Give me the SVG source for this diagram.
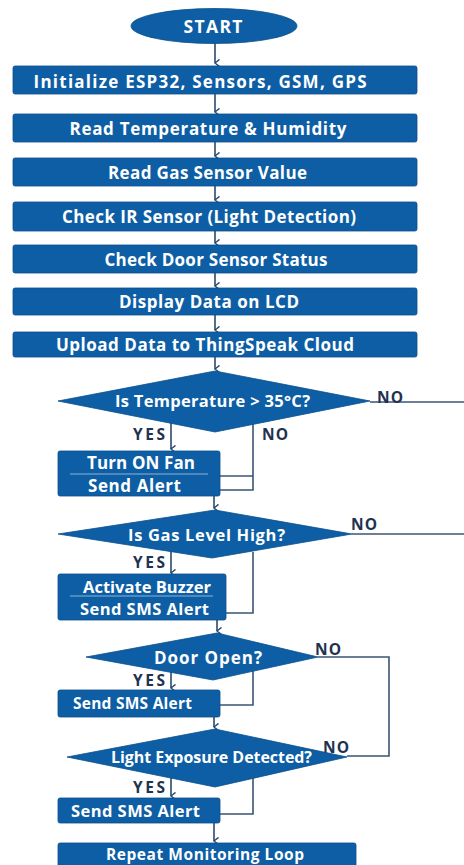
<svg xmlns="http://www.w3.org/2000/svg" width="464" height="865" viewBox="0 0 464 865">
<defs>
<marker id="arr" viewBox="0 0 10 10" refX="5" refY="9" markerWidth="9" markerHeight="9" markerUnits="userSpaceOnUse" orient="auto-start-reverse">
<path d="M1,4 L5,9 L9,4" fill="none" stroke="#2c4a6a" stroke-width="1.6"/>
</marker>
<style>
.box{fill:#0d5ea4;stroke:#0a4f8c;stroke-width:0.8}
.t{font-family:"Open Sans","Noto Sans","Liberation Sans",sans-serif;font-weight:700;fill:#ffffff;text-anchor:middle;dominant-baseline:central}
.lb{font-family:"Open Sans","Noto Sans","Liberation Sans",sans-serif;font-weight:700;fill:#1f3250;font-size:15.5px;text-anchor:middle;dominant-baseline:central}
.ln{fill:none;stroke:#3a5573;stroke-width:1.6}
.ar{fill:none;stroke:#2c4a6a;stroke-width:1.6;marker-end:url(#arr)}
.dv{stroke:#8fb4d8;stroke-width:1}
</style>
</defs>
<rect width="464" height="865" fill="#ffffff"/>

<g id="connectors">
<line class="ar" x1="215" y1="43" x2="215" y2="63"/>
<line class="ar" x1="215" y1="94" x2="215" y2="112"/>
<line class="ar" x1="215" y1="142" x2="215" y2="156"/>
<line class="ar" x1="215" y1="186" x2="215" y2="200"/>
<line class="ar" x1="215" y1="231" x2="215" y2="243"/>
<line class="ar" x1="215" y1="273" x2="215" y2="286"/>
<line class="ar" x1="215" y1="315" x2="215" y2="330"/>
<line class="ar" x1="215" y1="357" x2="215" y2="369"/>
<line class="ar" x1="171" y1="423" x2="171" y2="449"/>
<line class="ln" x1="370" y1="402" x2="464" y2="402"/>
<polyline class="ln" points="253,424 253,490 220,490"/>
<line class="ln" x1="220" y1="476" x2="253" y2="476"/>
<line class="ar" x1="214" y1="496" x2="214" y2="508"/>
<line class="ln" x1="352" y1="534" x2="464" y2="534"/>
<line class="ar" x1="171" y1="551" x2="171" y2="573"/>
<polyline class="ln" points="253,552 253,613 226,613"/>
<line class="ar" x1="217" y1="620" x2="217" y2="631"/>
<polyline class="ln" points="318,657 389,657 389,756 347,756"/>
<line class="ar" x1="171" y1="672" x2="171" y2="688"/>
<polyline class="ln" points="253,671 253,705 220,705"/>
<line class="ar" x1="214" y1="717" x2="214" y2="727"/>
<line class="ar" x1="171" y1="778" x2="171" y2="796"/>
<polyline class="ln" points="253,778 253,814 220,814"/>
<line class="ar" x1="214" y1="823" x2="214" y2="841"/>
<text class="lb" x="390" y="397" textLength="26">NO</text>
<text class="lb" x="149" y="434" textLength="32">YES</text>
<text class="lb" x="275" y="434" textLength="26">NO</text>
<text class="lb" x="364" y="524" textLength="26">NO</text>
<text class="lb" x="149" y="562" textLength="32">YES</text>
<text class="lb" x="328" y="649" textLength="26">NO</text>
<text class="lb" x="149" y="680" textLength="32">YES</text>
<text class="lb" x="336" y="747" textLength="26">NO</text>
<text class="lb" x="149" y="787" textLength="32">YES</text>
</g>

<g id="start">
<ellipse class="box" cx="214" cy="26" rx="83" ry="17.5"/>
<text class="t" x="213" y="26" font-size="17.5" textLength="59">START</text>
</g>
<g id="init">
<rect class="box" x="13" y="66" width="404" height="28" rx="2"/>
<text class="t" x="200" y="81" font-size="17" textLength="333">Initialize ESP32, Sensors, GSM, GPS</text>
</g>
<g id="readTemp">
<rect class="box" x="13" y="114" width="404" height="28" rx="2"/>
<text class="t" x="208" y="128" font-size="17" textLength="277">Read Temperature &amp; Humidity</text>
</g>
<g id="readGas">
<rect class="box" x="13" y="158" width="404" height="28" rx="2"/>
<text class="t" x="207.5" y="172.5" font-size="17" textLength="199">Read Gas Sensor Value</text>
</g>
<g id="checkIR">
<rect class="box" x="13" y="202" width="404" height="29" rx="2"/>
<text class="t" x="209" y="216.5" font-size="17" textLength="294">Check IR Sensor (Light Detection)</text>
</g>
<g id="checkDoor">
<rect class="box" x="13" y="245" width="404" height="28" rx="2"/>
<text class="t" x="216" y="259.5" font-size="17" textLength="223">Check Door Sensor Status</text>
</g>
<g id="display">
<rect class="box" x="13" y="288" width="404" height="27" rx="2"/>
<text class="t" x="209" y="301.5" font-size="17" textLength="180">Display Data on LCD</text>
</g>
<g id="upload">
<rect class="box" x="13" y="332" width="404" height="25" rx="2"/>
<text class="t" x="205" y="344.5" font-size="17" textLength="298">Upload Data to ThingSpeak Cloud</text>
</g>
<g id="decTemp">
<polygon class="box" points="215,371 370,401 215,432 58,401"/>
<text class="t" x="212.5" y="400" font-size="16.5" textLength="195">Is Temperature &gt; 35°C?</text>
</g>
<g id="fan">
<rect class="box" x="58" y="451" width="162" height="45" rx="2"/>
<line class="dv" x1="70" y1="474" x2="208" y2="474"/>
<text class="t" x="141" y="462" font-size="17" textLength="108">Turn ON Fan</text>
<text class="t" x="134.5" y="485" font-size="17" textLength="93">Send Alert</text>
</g>
<g id="decGas">
<polygon class="box" points="215,510 352,534 212,558 58,534"/>
<text class="t" x="206.5" y="534" font-size="16.5" textLength="157">Is Gas Level High?</text>
</g>
<g id="buzzer">
<rect class="box" x="58" y="574" width="168" height="46" rx="2"/>
<line class="dv" x1="70" y1="596" x2="213" y2="596"/>
<text class="t" x="147" y="586" font-size="16.5" textLength="128">Activate Buzzer</text>
<text class="t" x="144.5" y="608" font-size="16.5" textLength="129">Send SMS Alert</text>
</g>
<g id="decDoor">
<polygon class="box" points="217,633 318,657 213,680 86,657"/>
<text class="t" x="208" y="657" font-size="17" textLength="108">Door Open?</text>
</g>
<g id="smsDoor">
<rect class="box" x="58" y="690" width="162" height="27" rx="2"/>
<text class="t" x="132.5" y="703" font-size="15.5" textLength="119">Send SMS Alert</text>
</g>
<g id="decLight">
<polygon class="box" points="215,729 347,757 215,787 67,757"/>
<text class="t" x="211.5" y="757" font-size="16" textLength="201">Light Exposure Detected?</text>
</g>
<g id="smsLight">
<rect class="box" x="58" y="798" width="162" height="25" rx="2"/>
<text class="t" x="135.5" y="810" font-size="16.5" textLength="129">Send SMS Alert</text>
</g>
<g id="repeat">
<rect class="box" x="58" y="843" width="298" height="27" rx="2"/>
<text class="t" x="205" y="854" font-size="15.5" textLength="198">Repeat Monitoring Loop</text>
</g>
</svg>
